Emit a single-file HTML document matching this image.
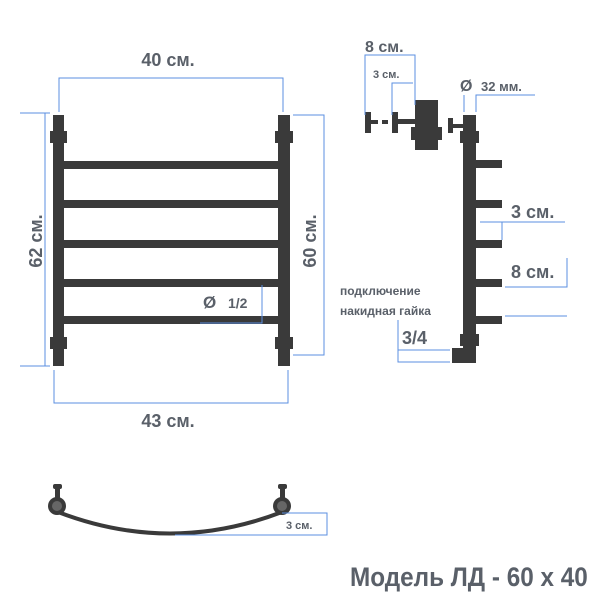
<!DOCTYPE html>
<html><head><meta charset="utf-8"><style>
body{margin:0;background:#fff}
text{font-family:"Liberation Sans",sans-serif;font-weight:bold;fill:#5a6069}
</style></head><body>
<svg width="600" height="600" viewBox="0 0 600 600" xmlns="http://www.w3.org/2000/svg">
<g fill="#3a3a3a">
<rect x="53" y="115" width="11" height="251"/>
<rect x="50" y="131" width="17" height="12"/>
<rect x="50" y="337" width="17" height="12"/>
<rect x="278" y="115" width="12" height="251"/>
<rect x="275" y="131" width="18" height="12"/>
<rect x="275" y="337" width="18" height="12"/>
<rect x="64" y="161" width="214" height="8"/>
<rect x="64" y="200" width="214" height="8"/>
<rect x="64" y="240" width="214" height="8"/>
<rect x="64" y="279" width="214" height="8"/>
<rect x="64" y="316" width="214" height="8"/>
<rect x="463" y="115" width="13" height="248"/>
<rect x="460" y="131" width="19" height="12"/>
<rect x="460" y="334" width="19" height="12"/>
<rect x="452" y="348" width="24" height="15"/>
<rect x="476" y="160" width="26" height="8"/>
<rect x="476" y="200" width="26" height="8"/>
<rect x="476" y="240" width="26" height="8"/>
<rect x="476" y="279" width="26" height="8"/>
<rect x="476" y="316" width="26" height="8"/>
<rect x="448" y="118" width="5" height="15"/>
<rect x="452" y="124" width="11" height="4"/>
<rect x="365" y="112" width="6" height="21"/>
<rect x="370" y="120" width="8" height="4"/>
<rect x="382" y="120" width="6" height="4"/>
<rect x="392" y="112" width="6" height="21"/>
<rect x="397" y="119" width="18" height="5"/>
<rect x="415" y="100" width="23" height="50"/>
<rect x="411" y="127" width="31" height="13"/>
<rect x="53" y="484" width="9" height="5" rx="2"/>
<rect x="55" y="488" width="5" height="10"/>
<circle cx="57" cy="506" r="9"/>
<rect x="278" y="484" width="9" height="5" rx="2"/>
<rect x="280" y="488" width="5" height="10"/>
<circle cx="282" cy="506" r="9"/>
</g>
<path d="M58 512 Q170 555 282 512" stroke="#3a3a3a" stroke-width="4" fill="none"/>
<circle cx="57" cy="506" r="5" fill="#666"/>
<circle cx="282" cy="506" r="5" fill="#666"/>
<g stroke="#5b8fe0" stroke-width="1" fill="none">
<path d="M59 112V78H283V112"/>
<path d="M20 113H50M20 366H50M45 113V366"/>
<path d="M293 115H324V355H293"/>
<path d="M54 370V403H288V370"/>
<path d="M200 323H262V285"/>
<path d="M365 115V55H415V105"/>
<path d="M392 115V83H413"/>
<path d="M464 112V95M476 112V95H535"/>
<path d="M480 222H565M502 222V240"/>
<path d="M505 287H567V258M567 316H505"/>
<path d="M398 320V362H450M398 350H450"/>
<path d="M175 535H327V513H282"/>
</g>
<text x="168" y="66" font-size="18" text-anchor="middle">40 см.</text>
<text x="168" y="427" font-size="18" text-anchor="middle">43 см.</text>
<text transform="translate(42 241) rotate(-90)" font-size="18" text-anchor="middle">62 см.</text>
<text transform="translate(316 241) rotate(-90)" font-size="18" text-anchor="middle">60 см.</text>
<text x="203" y="308" font-size="17">Ø</text>
<text x="228" y="308" font-size="14">1/2</text>
<text x="365" y="52" font-size="16">8 см.</text>
<text x="373" y="78" font-size="11">3 см.</text>
<text x="460" y="91" font-size="16">Ø</text>
<text x="481" y="91" font-size="13">32 мм.</text>
<text x="511" y="218" font-size="18">3 см.</text>
<text x="511" y="278" font-size="18">8 см.</text>
<text x="340" y="295" font-size="12">подключение</text>
<text x="340" y="315" font-size="12">накидная гайка</text>
<text x="402" y="344" font-size="18">3/4</text>
<text x="286" y="529" font-size="11">3 см.</text>
<text x="350" y="586" font-size="27" fill="#596069" transform="translate(350 586) scale(0.9 1) translate(-350 -586)">Модель ЛД - 60 x 40</text>
</svg>
</body></html>
